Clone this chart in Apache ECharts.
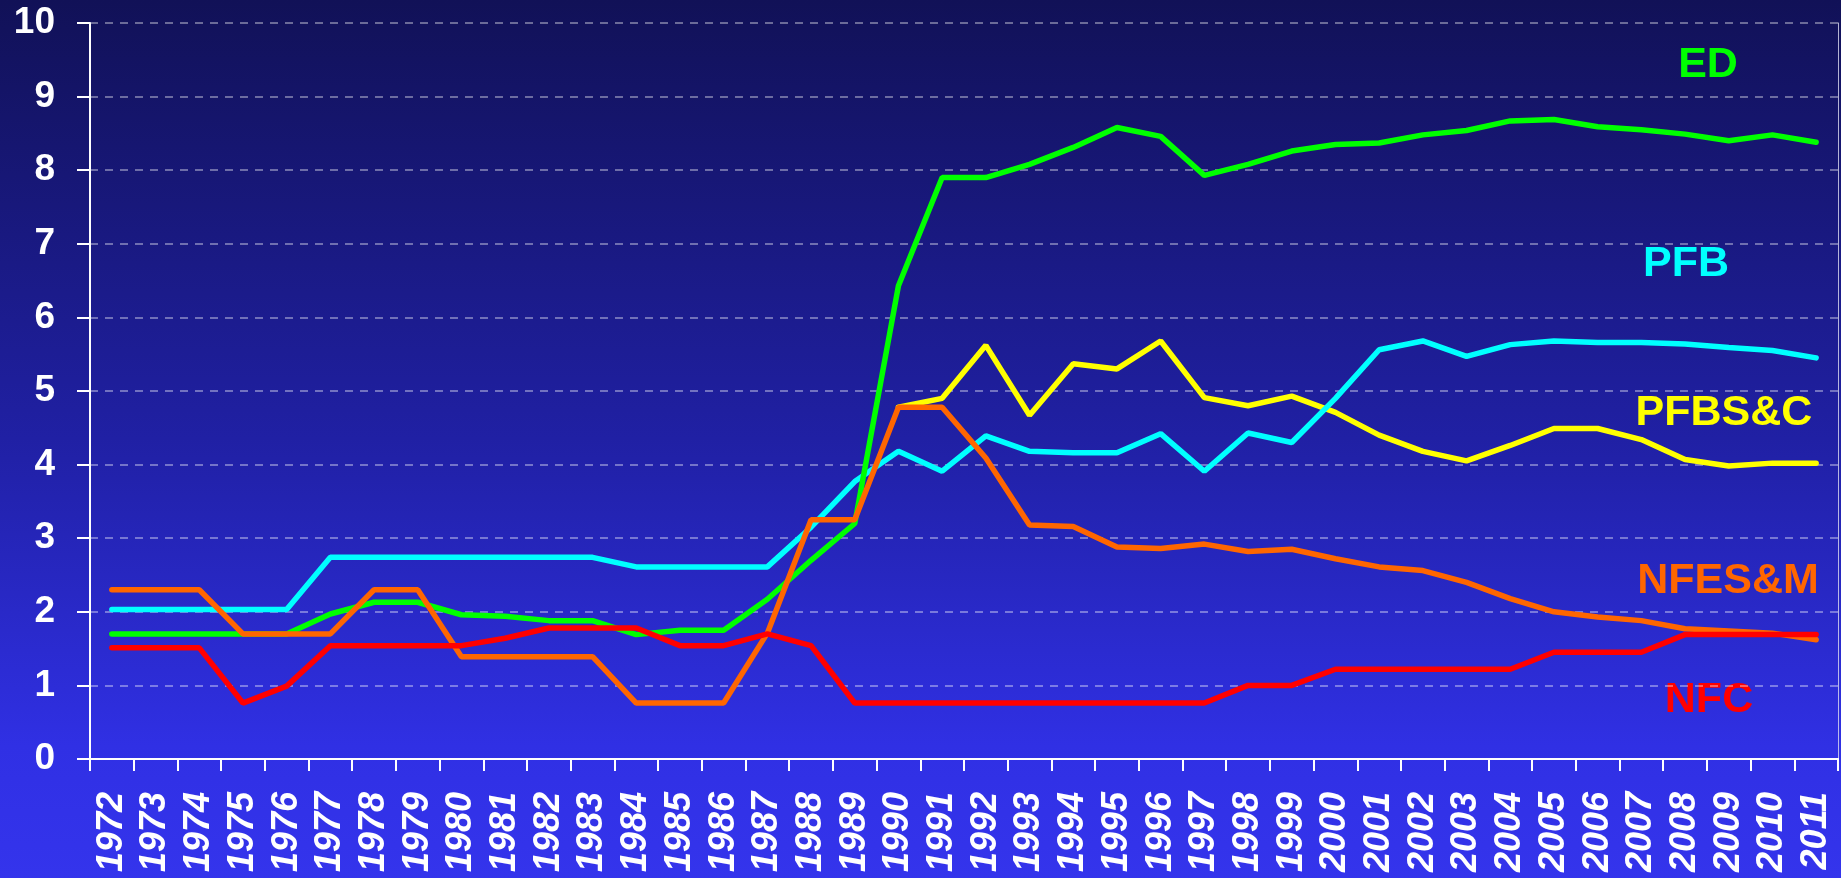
<!DOCTYPE html>
<html>
<head>
<meta charset="utf-8">
<script src="https://cdn.jsdelivr.net/npm/echarts@6/dist/echarts.min.js"></script>
<style>
  html, body { margin: 0; padding: 0; }
  #chart { width: 1841px; height: 878px; }
</style>
</head>
<body>
<div id="chart"></div>
<script>
(function() {
    'use strict';

    // years on the x axis
    var years = [];
    for (var y = 1972; y <= 2011; y++) years.push(String(y));

    // values
    var ed = [1.70, 1.70, 1.70, 1.70, 1.70, 1.97, 2.13, 2.13, 1.96, 1.94,
              1.88, 1.88, 1.69, 1.75, 1.75, 2.17, 2.70, 3.20, 6.43, 7.90,
              7.90, 8.08, 8.31, 8.58, 8.46, 7.93, 8.08, 8.26, 8.35, 8.37,
              8.48, 8.54, 8.67, 8.69, 8.59, 8.55, 8.49, 8.40, 8.48, 8.38];
    var pfb = [2.03, 2.03, 2.03, 2.03, 2.03, 2.74, 2.74, 2.74, 2.74, 2.74,
               2.74, 2.74, 2.61, 2.61, 2.61, 2.61, 3.15, 3.77, 4.18, 3.91,
               4.39, 4.18, 4.16, 4.16, 4.42, 3.91, 4.43, 4.30, 4.90, 5.56,
               5.68, 5.47, 5.63, 5.68, 5.66, 5.66, 5.64, 5.59, 5.55, 5.45];
    var pfbsc = [null, null, null, null, null, null, null, null, null, null,
                 null, null, null, null, null, null, null, null, 4.78, 4.90,
                 5.62, 4.67, 5.37, 5.30, 5.68, 4.91, 4.80, 4.93, 4.71, 4.40,
                 4.18, 4.05, 4.26, 4.49, 4.49, 4.34, 4.07, 3.98, 4.02, 4.02];
    var nfesm = [2.30, 2.30, 2.30, 1.70, 1.70, 1.70, 2.30, 2.30, 1.39, 1.39,
                 1.39, 1.39, 0.76, 0.76, 0.76, 1.71, 3.25, 3.25, 4.78, 4.78,
                 4.09, 3.18, 3.16, 2.88, 2.86, 2.92, 2.82, 2.85, 2.72, 2.61,
                 2.56, 2.40, 2.18, 2.00, 1.93, 1.88, 1.77, 1.74, 1.71, 1.62];
    var nfc = [1.51, 1.51, 1.51, 0.76, 0.99, 1.54, 1.54, 1.54, 1.54, 1.64,
               1.78, 1.78, 1.78, 1.54, 1.54, 1.70, 1.54, 0.76, 0.76, 0.76,
               0.76, 0.76, 0.76, 0.76, 0.76, 0.76, 1.00, 1.00, 1.22, 1.22,
               1.22, 1.22, 1.22, 1.45, 1.45, 1.45, 1.69, 1.69, 1.69, 1.69];

    var FONT = "'Liberation Sans', Arial, sans-serif";

    function line(name, data, color) {
        return {
            name: name,
            type: 'line',
            data: data,
            symbol: 'none',
            connectNulls: false,
            lineStyle: { color: color, width: 5.5, cap: 'round' },
            itemStyle: { color: color }
        };
    }

    // series name written next to the line ends
    function tag(text, x, y, color) {
        return {
            type: 'text',
            x: x, y: y,
            style: {
                text: text, fill: color, font: 'bold 43px ' + FONT,
                align: 'center', verticalAlign: 'middle'
            }
        };
    }

    var chart = echarts.init(document.getElementById('chart'));
    chart.setOption({
        backgroundColor: {
            type: 'linear', x: 0, y: 0, x2: 0, y2: 1,
            colorStops: [
                { offset: 0, color: '#111157' },
                { offset: 0.5, color: '#2020a4' },
                { offset: 0.85, color: '#3030e4' },
                { offset: 1, color: '#3434ec' }
            ]
        },
        animation: false,
        grid: { left: 90, right: 3, top: 23, bottom: 119, containLabel: false },
        xAxis: [{
            type: 'category',
            data: years,
            boundaryGap: true,
            axisLine: { lineStyle: { color: '#ffffff', width: 2 } },
            axisTick: { show: true, length: 12, inside: false,
                        lineStyle: { color: '#ffffff', width: 2 } },
            axisLabel: {
                interval: 0, rotate: 90, margin: 33,
                color: '#ffffff', fontSize: 36, fontWeight: 'bold',
                fontStyle: 'italic', fontFamily: FONT
            },
            splitLine: { show: false }
        }, {
            type: 'category',
            data: years,
            position: 'top',
            axisLine: { lineStyle: { color: '#ffffff', width: 2 } },
            axisTick: { show: false },
            axisLabel: { show: false }
        }],
        yAxis: [{
            type: 'value',
            min: 0, max: 10, interval: 1,
            axisLine: { show: true, lineStyle: { color: '#ffffff', width: 2 } },
            axisTick: { show: true, length: 13, lineStyle: { color: '#ffffff', width: 2 } },
            axisLabel: {
                margin: 35, color: '#ffffff', fontSize: 37, fontWeight: 'bold',
                fontFamily: FONT
            },
            splitLine: {
                show: true,
                lineStyle: { color: 'rgba(255,255,255,0.5)', width: 1.5, type: [8, 7] }
            }
        }, {
            type: 'value',
            position: 'right',
            min: 0, max: 10, interval: 1,
            axisLine: { show: true, lineStyle: { color: 'rgba(220,220,240,0.8)', width: 1 } },
            axisTick: { show: false },
            axisLabel: { show: false },
            splitLine: { show: false }
        }],
        series: [
            line('PFBS&C', pfbsc, '#ffff00'),
            line('PFB', pfb, '#00ffff'),
            line('ED', ed, '#00ff00'),
            line('NFES&M', nfesm, '#ff6600'),
            line('NFC', nfc, '#ff0000')
        ],
        graphic: [
            tag('ED', 1708, 65, '#00ff00'),
            tag('PFB', 1686, 264, '#00ffff'),
            tag('PFBS&C', 1724, 413, '#ffff00'),
            tag('NFES&M', 1728, 581, '#ff6600'),
            tag('NFC', 1709, 700, '#ff0000')
        ]
    });
})();
</script>
</body>
</html>
